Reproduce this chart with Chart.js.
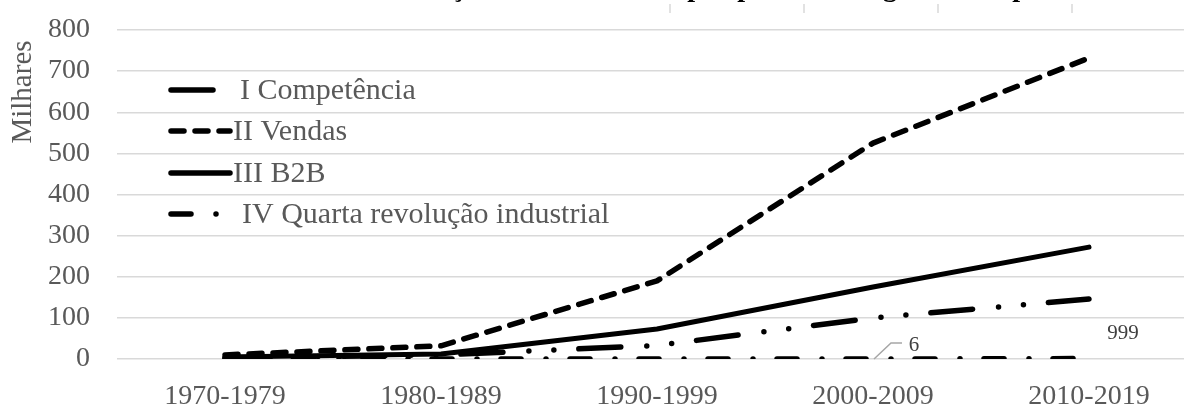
<!DOCTYPE html>
<html>
<head>
<meta charset="utf-8">
<script src="https://cdn.jsdelivr.net/npm/chart.js@4"></script>
<style>
html, body { margin: 0; padding: 0; background: #fff; overflow: hidden; }
#wrap { width: 1184px; height: 406px; overflow: hidden; position: relative; }
</style>
</head>
<body>
<div id="wrap"><canvas id="grafico" width="1200" height="406"></canvas></div>
<script>
// dados (milhares)
var decadas = ["1970-1979", "1980-1989", "1990-1999", "2000-2009", "2010-2019"];
var competencia = [3, 10, 33, 100, 146];
var vendas = [10, 32, 190, 525, 732];
var b2b = [5, 12, 73, 175, 272];
var quartaRev = [0, 0, 0, 0.006, 0.999];
var rotulosQuarta = ["", "", "", "6", "999"];
var nomes = ["I Competência", "II Vendas", "III B2B", "IV Quarta revolução industrial"];
var yTicks = [0, 100, 200, 300, 400, 500, 600, 700, 800];

var serif = "'Liberation Serif', 'Times New Roman', serif";
var cinza = "#595959";

var tracos = [
  [42, 26, 0, 25, 0, 25],   // I
  [13, 11],                 // II
  [],                       // III
  [20, 25, 0, 24]           // IV
];

// legenda desenhada dentro da area do grafico
var legendaPlugin = {
  id: "legendaInterna",
  afterDraw: function (chart) {
    var ctx = chart.ctx;
    var ys = [90, 131, 173, 214];
    var textoX = [240, 233, 233, 242];
    ctx.save();
    for (var i = 0; i < nomes.length; i++) {
      ctx.beginPath();
      ctx.setLineDash(tracos[i]);
      ctx.lineWidth = 5.5;
      ctx.lineCap = "round";
      ctx.strokeStyle = "#000";
      ctx.moveTo(171, ys[i]);
      ctx.lineTo(230, ys[i]);
      ctx.stroke();
      ctx.setLineDash([]);
      ctx.font = "30px " + serif;
      ctx.fillStyle = cinza;
      ctx.textBaseline = "alphabetic";
      ctx.textAlign = "left";
      ctx.fillText(nomes[i], textoX[i], ys[i] + 9);
    }
    // titulo do eixo (unidade de exibicao)
    ctx.translate(31, 92);
    ctx.rotate(-Math.PI / 2);
    ctx.textAlign = "center";
    ctx.textBaseline = "alphabetic";
    ctx.font = "29px " + serif;
    ctx.fillStyle = cinza;
    ctx.fillText("Milhares", 0, 0);
    ctx.restore();
  }
};

// rotulos de dados da serie IV com linha de chamada
var rotulosPlugin = {
  id: "rotulosQuarta",
  afterDatasetsDraw: function (chart) {
    var ctx = chart.ctx;
    var meta = chart.getDatasetMeta(3);
    ctx.save();
    ctx.font = "21px " + serif;
    ctx.fillStyle = "#404040";
    ctx.textBaseline = "middle";
    ctx.textAlign = "center";
    // "6" com linha de chamada
    var p = meta.data[3];
    ctx.beginPath();
    ctx.strokeStyle = "#a6a6a6";
    ctx.lineWidth = 1.5;
    ctx.moveTo(p.x + 1, p.y);
    ctx.lineTo(p.x + 18, p.y - 16);
    ctx.lineTo(p.x + 29, p.y - 16);
    ctx.stroke();
    ctx.fillText(rotulosQuarta[3], p.x + 41, p.y - 14);
    var q = meta.data[4];
    ctx.fillText(rotulosQuarta[4], q.x + 34, q.y - 25);
    ctx.restore();
  }
};

// restos do titulo cortado no topo
var topoPlugin = {
  id: "topoCortado",
  afterDraw: function (chart) {
    var ctx = chart.ctx;
    ctx.save();
    ctx.strokeStyle = "#d9d9d9";
    ctx.lineWidth = 1.5;
    [670, 804, 938, 1072].forEach(function (x) {
      ctx.beginPath();
      ctx.moveTo(x, 4);
      ctx.lineTo(x, 13);
      ctx.stroke();
    });
    ctx.font = "bold 28px " + serif;
    ctx.fillStyle = "#000";
    ctx.textAlign = "center";
    ctx.textBaseline = "alphabetic";
    ctx.fillText("ç", 458, -4);
    ctx.fillText("p", 695, -4);
    ctx.fillText("p", 745, -4);
    ctx.fillText("g", 890, -4);
    ctx.fillText("p", 1020, -4);
    ctx.restore();
  }
};

function serie(rotulo, dados, traco, lw) {
  return {
    label: rotulo,
    data: dados,
    borderColor: "#000",
    backgroundColor: "#000",
    borderWidth: lw,
    borderDash: traco,
    borderCapStyle: "round",
    borderJoinStyle: "round",
    pointRadius: 0,
    tension: 0,
    fill: false
  };
}

var grafico = new Chart(document.getElementById("grafico"), {
  type: "line",
  data: {
    labels: decadas,
    datasets: [
      serie(nomes[0], competencia, tracos[0], 5.5),
      serie(nomes[1], vendas, tracos[1], 5.5),
      serie(nomes[2], b2b, tracos[2], 5),
      serie(nomes[3], quartaRev, tracos[3], 5.5)
    ]
  },
  options: {
    responsive: false,
    animation: false,
    devicePixelRatio: 1,
    layout: { padding: { top: 30, right: 3, left: 0, bottom: 0 } },
    plugins: {
      legend: { display: false },
      tooltip: { enabled: false },
      title: { display: false }
    },
    scales: {
      x: {
        offset: true,
        grid: { display: false, drawTicks: false },
        border: { display: false },
        ticks: { color: cinza, font: { family: serif, size: 28 }, padding: 21, maxRotation: 0 },
        afterFit: function (s) { s.height = 47; }
      },
      y: {
        min: 0,
        max: 800,
        afterBuildTicks: function (s) {
          s.ticks = yTicks.map(function (v) { return { value: v }; });
        },
        grid: { color: "#d9d9d9", lineWidth: 1.5, drawTicks: false },
        border: { display: false },
        ticks: { color: cinza, font: { family: serif, size: 28 }, padding: 27 },
        afterFit: function (s) {
          s.width = 117;
          s.paddingTop = 0;
          s.paddingBottom = 0;
        }
      }
    }
  },
  plugins: [legendaPlugin, rotulosPlugin, topoPlugin]
});
</script>
</body>
</html>
